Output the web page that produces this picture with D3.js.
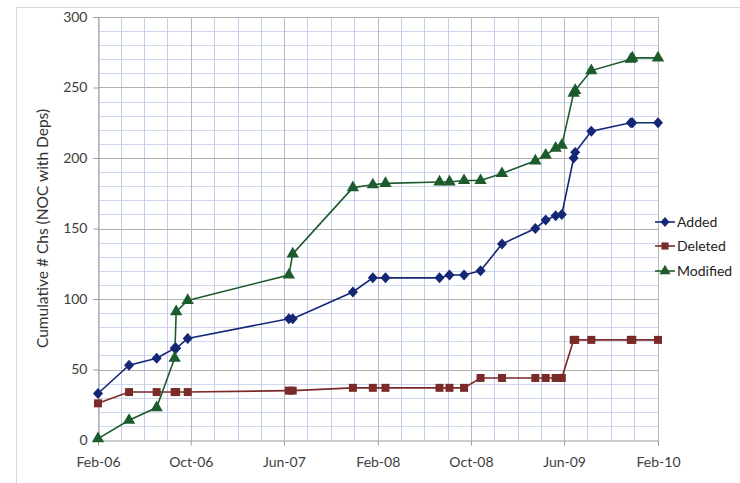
<!DOCTYPE html>
<html>
<head>
<meta charset="utf-8">
<script src="https://cdn.jsdelivr.net/npm/d3@7"></script>
<style>
  html, body { margin: 0; padding: 0; background: #ffffff; }
  svg { display: block; font-family: Lato, "Open Sans", sans-serif; }
</style>
</head>
<body>
<svg id="chart" width="740" height="483"></svg>
<script>
const dates = ["2006-02-01","2006-04-23","2006-07-04","2006-08-20","2006-08-24","2006-09-23",
  "2007-06-14","2007-06-24","2007-11-28","2008-01-19","2008-02-21","2008-07-11","2008-08-06",
  "2008-09-13","2008-10-26","2008-12-21","2009-03-18","2009-04-14","2009-05-10","2009-05-26",
  "2009-06-26","2009-06-30","2009-08-11","2009-11-22","2009-11-26","2010-02-01"];
const added    = [33,53,58,65,65,72,86,86,105,115,115,115,117,117,120,139,150,156,159,160,200,204,219,225,225,225];
const deleted  = [26,34,34,34,34,34,35,35,37,37,37,37,37,37,44,44,44,44,44,44,71,71,71,71,71,71];
const modified = [1,14,23,58,91,99,117,132,179,181,182,183,183,184,184,189,198,202,207,209,246,248,262,270,271,271];
const seriesNames = ["Added","Deleted","Modified"];
const tickDates = ["2006-02-01","2006-10-01","2007-06-01","2008-02-01","2008-10-01","2009-06-01","2010-02-01"];
const yTicks = [0,50,100,150,200,250,300];
const yLabel = "Cumulative # Chs (NOC with Deps)";

const parse = d3.timeParse("%Y-%m-%d");
const fmt = d3.timeFormat("%b-%y");
const svg = d3.select("#chart");

const pLeft = 98, pRight = 658, pTop = 17, pBottom = 440;
const x = d3.scaleTime().domain([parse(tickDates[0]), parse(tickDates[tickDates.length-1])]).range([pLeft, pRight]);
const y = d3.scaleLinear().domain([0, 300]).range([pBottom, pTop]);

svg.append("rect").attr("x", 16.5).attr("y", 7.5).attr("width", 760).attr("height", 520)
  .attr("fill", "none").attr("stroke", "#d9d9d9").attr("stroke-width", 1);

const grid = svg.append("g");
grid.selectAll(".hmin").data(d3.range(10, 300, 10).filter(v => v % 50 !== 0)).join("line")
  .attr("x1", pLeft).attr("x2", pRight)
  .attr("y1", d => Math.round(y(d)) + 0.5).attr("y2", d => Math.round(y(d)) + 0.5)
  .attr("stroke", "#d0d8f0").attr("stroke-width", 1);
const minorDates = d3.timeMonth.range(parse(tickDates[0]), parse(tickDates[tickDates.length-1]), 2);
grid.selectAll(".vmin").data(minorDates).join("line")
  .attr("y1", pTop).attr("y2", pBottom)
  .attr("x1", d => Math.round(x(d)) + 0.5).attr("x2", d => Math.round(x(d)) + 0.5)
  .attr("stroke", "#c3ccee").attr("stroke-width", 1);
grid.selectAll(".hmaj").data(yTicks.slice(1)).join("line")
  .attr("x1", pLeft).attr("x2", pRight)
  .attr("y1", d => Math.round(y(d)) + 0.5).attr("y2", d => Math.round(y(d)) + 0.5)
  .attr("stroke", "#b0b0b0").attr("stroke-width", 1);
grid.selectAll(".vmaj").data(tickDates.slice(1)).join("line")
  .attr("y1", pTop).attr("y2", pBottom)
  .attr("x1", d => Math.round(x(parse(d))) + 0.5).attr("x2", d => Math.round(x(parse(d))) + 0.5)
  .attr("stroke", "#b8b8b8").attr("stroke-width", 1);

const xAxis = d3.axisBottom(x).tickValues(tickDates.map(parse)).tickFormat(fmt).tickSize(5).tickPadding(12);
const yAxis = d3.axisLeft(y).tickValues(yTicks).tickSize(5).tickPadding(6);
const gx = svg.append("g").attr("transform", `translate(0,${pBottom + 0.5})`).call(xAxis);
const gy = svg.append("g").attr("transform", `translate(${pLeft + 0.5},0)`).call(yAxis);
[gx, gy].forEach(g => {
  g.select(".domain").attr("stroke", "#9a9a9a");
  g.selectAll(".tick line").attr("stroke", "#9a9a9a");
  g.selectAll(".tick text").attr("fill", "#3c3c3c").style("font-size", "14px").style("font-family", "Lato, sans-serif");
});

svg.append("text").attr("transform", `translate(48,${(pTop + pBottom) / 2}) rotate(-90)`)
  .attr("text-anchor", "middle").attr("fill", "#333")
  .style("font-size", "15.5px").text(yLabel);

// wide diamond like the spreadsheet marker
const wideDiamond = {
  draw(ctx, size) {
    const h = Math.sqrt(size) * 0.72, w = Math.sqrt(size) * 0.66;
    ctx.moveTo(0, -h); ctx.lineTo(w, 0); ctx.lineTo(0, h); ctx.lineTo(-w, 0); ctx.closePath();
  }
};

const colors = ["#142676", "#7b2a2a", "#1c5b2c"];
const values = [added, deleted, modified];
const shapes = [wideDiamond, d3.symbolSquare, d3.symbolTriangle];
const sizes = [58, 64, 66];

const series = seriesNames.map((name, i) => ({
  name, color: colors[i], shape: shapes[i], size: sizes[i],
  pts: dates.map((d, j) => ({ date: parse(d), v: values[i][j] }))
}));

const line = d3.line().x(d => x(d.date)).y(d => y(d.v));
const plot = svg.append("g");
series.forEach(s => {
  plot.append("path").datum(s.pts).attr("d", line)
    .attr("fill", "none").attr("stroke", s.color).attr("stroke-width", 1.6);
});
series.forEach(s => {
  const sym = d3.symbol().type(s.shape).size(s.size);
  plot.selectAll(null).data(s.pts).join("path")
    .attr("transform", d => `translate(${x(d.date)},${y(d.v)})`)
    .attr("d", sym).attr("fill", s.color);
});

const legendY = [222, 246, 271];
const lg = svg.append("g");
series.forEach((s, i) => {
  const g = lg.append("g").attr("transform", `translate(655,${legendY[i]})`);
  g.append("line").attr("x1", 0).attr("x2", 20).attr("y1", 0).attr("y2", 0)
    .attr("stroke", s.color).attr("stroke-width", 1.6);
  g.append("path").attr("transform", "translate(10,0)")
    .attr("d", d3.symbol().type(s.shape).size(s.size * 0.8)()).attr("fill", s.color);
  g.append("text").attr("x", 22).attr("y", 0).attr("dy", "0.35em")
    .attr("fill", "#222").style("font-size", "14px").text(s.name);
});
</script>
</body>
</html>
